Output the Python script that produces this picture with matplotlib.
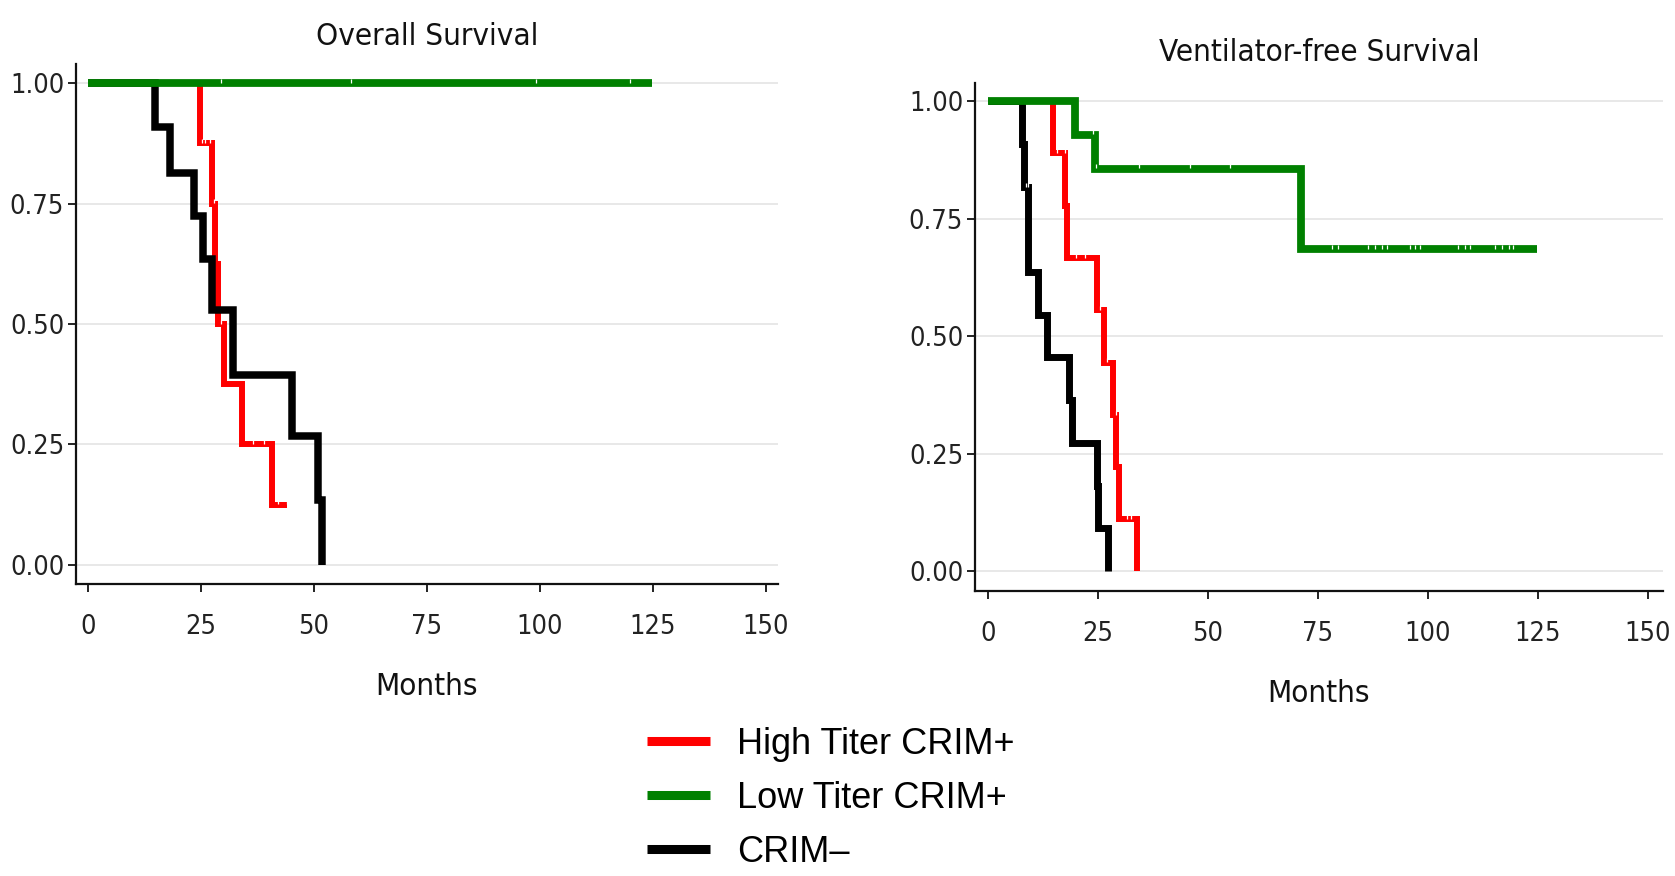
import matplotlib
matplotlib.use("Agg")
import matplotlib.pyplot as plt
import matplotlib.font_manager as fm
from matplotlib.lines import Line2D
from matplotlib.transforms import offset_copy

# ---------------- data ----------------
# Overall survival (months, survival probability after the step)
os_high_t = [0, 24.9, 27.4, 28.2, 28.9, 30.2, 34.1, 40.7, 44.0]
os_high_s = [1.0, 0.875, 0.75, 0.625, 0.5, 0.375, 0.25, 0.125, 0.125]
os_high_c = [25.3, 26.0, 27.0, 27.9, 29.5, 36.5, 39.0, 42.0, 44.0]

os_low_t = [0, 124.8]
os_low_s = [1.0, 1.0]
os_low_c = [29.5, 58.2, 99.2, 120.0]

os_neg_t = [0, 14.9, 18.2, 23.5, 25.6, 27.4, 32.2, 45.2, 51.0, 51.8]
os_neg_s = [1.0, 0.909, 0.814, 0.724, 0.634, 0.53, 0.395, 0.267, 0.135, 0.0]
os_neg_c = []

# Ventilator-free survival
vfs_high_t = [0, 14.8, 17.6, 18.0, 24.7, 26.4, 28.3, 29.2, 29.8, 33.9]
vfs_high_s = [1.0, 0.889, 0.778, 0.667, 0.556, 0.444, 0.333, 0.222, 0.111, 0.0]
vfs_high_c = [15.6, 17.5, 20.0, 22.0, 25.5, 27.0, 29.0, 31.5, 32.5]

vfs_low_t = [0, 19.8, 24.3, 71.2, 124.8]
vfs_low_s = [1.0, 0.929, 0.857, 0.686, 0.686]
vfs_low_c = [23.8, 24.6, 34.4, 46.0, 55.0, 78.1, 79.6, 86.4, 88.0, 89.5, 90.6,
             95.9, 97.0, 98.2, 106.9, 108.4, 109.5, 115.2, 116.8, 118.3, 119.4]

vfs_neg_t = [0, 7.8, 8.1, 9.2, 11.4, 13.5, 18.3, 19.0, 24.7, 25.1, 27.3]
vfs_neg_s = [1.0, 0.909, 0.818, 0.636, 0.545, 0.455, 0.364, 0.273, 0.182, 0.091, 0.0]
vfs_neg_c = [8.6, 9.0]

group_labels = ["High Titer CRIM+", "Low Titer CRIM+", "CRIM\u2013"]
group_colors = ["#ff0000", "#008000", "#000000"]
group_z = [3, 5, 4]
panel_titles = ["Overall Survival", "Ventilator-free Survival"]
x_ticks = [0, 25, 50, 75, 100, 125, 150]
y_ticks = [0.0, 0.25, 0.50, 0.75, 1.00]
y_ticklabels = ["0.00", "0.25", "0.50", "0.75", "1.00"]
x_label = "Months"

# ---------------- fonts ----------------
avail = {f.name for f in fm.fontManager.ttflist}
dejavu_cond = any(f.name == "DejaVu Sans" and "condensed" in str(f.stretch).lower()
                  for f in fm.fontManager.ttflist)
if "Liberation Sans Narrow" in avail:
    narrow = dict(family="Liberation Sans Narrow")
    tick_fs, lab_fs = 21, 25
elif dejavu_cond:
    narrow = dict(family="DejaVu Sans", stretch="condensed")
    tick_fs, lab_fs = 19.5, 22.5
else:
    narrow = dict(family="Liberation Sans")
    tick_fs, lab_fs = 18, 21

W, H = 1675, 876
fig = plt.figure(figsize=(W / 100, H / 100), dpi=100)
fig.patch.set_facecolor("white")

panels = [
    dict(rect=(76 / W, 1 - 584 / H, (778 - 76) / W, (584 - 64) / H),
         xlim=(-2.6, 152.7), ylim=(-0.04, 1.04), tpad=14,
         series=[(os_high_t, os_high_s, os_high_c, 4.3),
                 (os_low_t, os_low_s, os_low_c, 5.6),
                 (os_neg_t, os_neg_s, os_neg_c, 5.4)]),
    dict(rect=(975 / W, 1 - 591 / H, (1663 - 975) / W, (591 - 83) / H),
         xlim=(-2.95, 153.4), ylim=(-0.042, 1.039), tpad=16,
         series=[(vfs_high_t, vfs_high_s, vfs_high_c, 4.3),
                 (vfs_low_t, vfs_low_s, vfs_low_c, 5.6),
                 (vfs_neg_t, vfs_neg_s, vfs_neg_c, 5.0)]),
]

for i, p in enumerate(panels):
    ax = fig.add_axes(p["rect"])
    ax.set_xlim(*p["xlim"])
    ax.set_ylim(*p["ylim"])
    for y in y_ticks:
        ax.axhline(y, color="#e6e6e6", lw=1.3, zorder=0)
    for (t, s, c, lw), col, z in zip(p["series"], group_colors, group_z):
        ax.step(t, s, where="post", color=col, lw=lw, solid_joinstyle="miter",
                solid_capstyle="butt", zorder=z)
        if c:
            cs = []
            for ct in c:
                val = s[0]
                for tt, ss in zip(t, s):
                    if tt <= ct:
                        val = ss
                cs.append(val)
            tr = offset_copy(ax.transData, fig=fig, y=1.6, units="points")
            ax.plot(c, cs, ls="none", marker="|", ms=3.2, mew=0.9,
                    color="white", transform=tr, zorder=z + 0.5)
    for sp in ["top", "right"]:
        ax.spines[sp].set_visible(False)
    for sp in ["left", "bottom"]:
        ax.spines[sp].set_linewidth(1.6)
        ax.spines[sp].set_color("#111111")
    ax.set_xticks(x_ticks)
    ax.set_xticklabels([str(v) for v in x_ticks], **narrow)
    ax.set_yticks(y_ticks)
    ax.set_yticklabels(y_ticklabels, **narrow)
    ax.tick_params(axis="both", direction="out", length=5.5, width=1.3,
                   color="#111111", labelsize=tick_fs, labelcolor="#222222", pad=3)
    ax.tick_params(axis="x", pad=16)
    ax.set_xlabel(x_label, fontsize=lab_fs, color="#111111", labelpad=23, **narrow)
    ax.set_title(panel_titles[i], fontsize=lab_fs, color="#111111",
                 pad=p["tpad"], **narrow)

handles = [Line2D([0], [0], color=c, lw=6.5, solid_capstyle="butt") for c in group_colors]
fig.legend(handles, group_labels, loc="upper left",
           bbox_to_anchor=(647 / W, 1 - 727 / H), frameon=False,
           prop=dict(family="Liberation Sans", size=26), handlelength=1.75,
           handletextpad=0.75, labelspacing=0.52, borderpad=0, borderaxespad=0)

fig.savefig("out.png", dpi=100, facecolor="white")
